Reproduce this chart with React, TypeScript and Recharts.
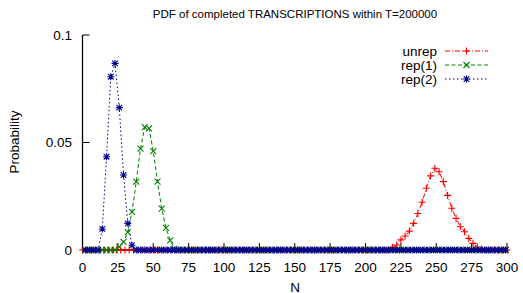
import React from "react";
import { LineChart, Line, XAxis, YAxis, Customized } from "recharts";

// Sample positions (N) for each series
const unrepGrid = [0,3,6,9,12,15,18,21,24,27,30,33,36,39,42,45,48,51,54,57,60,63,66,69,72,75,78,81,84,87,90,93,96,99,102,105,108,111,114,117,120,123,126,129,132,135,138,141,144,147,150,153,156,159,162,165,168,171,174,177,180,183,186,189,192,195,198,201,204,207,210,213,216,219,222,225,228,231,234,237,240,243,246,249,252,255,258,261,264,267,270,273,276,279,282,285,288,291,294,297,300];
const repGrid = [2,5,8,11,14,17,20,23,26,29,32,35,38,41,44,47,50,53,56,59,62,65,68,71,74,77,80,83,86,89,92,95,98,101,104,107,110,113,116,119,122,125,128,131,134,137,140,143,146,149,152,155,158,161,164,167,170,173,176,179,182,185,188,191,194,197,200,203,206,209,212,215,218,221,224,227,230,233,236,239,242,245,248,251,254,257,260,263,266,269,272,275,278,281,284,287,290,293,296,299];

// Non-zero parts of each distribution (everything else reads as 0)
const unrepPeakN = [219,222,225,228,231,234,237,240,243,246,249,252,255,258,261,264,267,270,273,276,279,282];
const unrepPeakP = [0.0012,0.0023,0.0047,0.0065,0.0088,0.0124,0.017,0.0222,0.0287,0.0345,0.038,0.0364,0.0318,0.0254,0.0194,0.0147,0.0108,0.0085,0.0054,0.0031,0.0014,0.0004];

const rep1PeakN = [26,29,32,35,38,41,44,47,50,53,56,59,62,65];
const rep1PeakP = [0.0015,0.0038,0.0083,0.0177,0.0318,0.0472,0.0572,0.0566,0.046,0.0318,0.0192,0.0103,0.0045,0.0005];

const rep2PeakN = [14,17,20,23,26,29,32,35];
const rep2PeakP = [0.0098,0.0434,0.0806,0.0868,0.0662,0.0349,0.0124,0.0022];

const xTicks = [0,25,50,75,100,125,150,175,200,225,250,275,300];
const yTicks = [0,0.05,0.1];

const TITLE = "PDF of completed TRANSCRIPTIONS within T=200000";
const X_LABEL = "N";
const Y_LABEL = "Probability";

const FONT = "'Liberation Sans', Arial, Helvetica, sans-serif";

const build = (grid: number[], pn: number[], pp: number[]) =>
  grid.map((n) => {
    const i = pn.indexOf(n);
    return { N: n, p: i >= 0 ? pp[i] : 0 };
  });

const unrepData = build(unrepGrid, unrepPeakN, unrepPeakP);
const rep1Data = build(repGrid, rep1PeakN, rep1PeakP);
const rep2Data = build(repGrid, rep2PeakN, rep2PeakP);

const RED = "#ff0000";
const GREEN = "#008000";
const BLUE = "#00008f";

const plusPath = (cx: number, cy: number, r: number) =>
  `M${cx - r},${cy}H${cx + r}M${cx},${cy - r}V${cy + r}`;
const crossPath = (cx: number, cy: number, r: number) =>
  `M${cx - r},${cy - r}L${cx + r},${cy + r}M${cx - r},${cy + r}L${cx + r},${cy - r}`;
const starPath = (cx: number, cy: number, r: number) =>
  plusPath(cx, cy, r) + crossPath(cx, cy, r * 0.8);

const marker = (kind: string, color: string) => (props: any) => {
  const { cx, cy, index } = props;
  if (cx == null || cy == null) return <g key={`m${kind}${index}`} />;
  const d =
    kind === "plus" ? plusPath(cx, cy, 3.5) : kind === "cross" ? crossPath(cx, cy, 3) : starPath(cx, cy, 3.5);
  return <path key={`m${kind}${index}`} d={d} stroke={color} strokeWidth={1.1} fill="none" />;
};

const series = [
  { name: "unrep", color: RED, dash: "5 2 1 2", kind: "plus" },
  { name: "rep(1)", color: GREEN, dash: "4 2.5", kind: "cross" },
  { name: "rep(2)", color: BLUE, dash: "1.5 2.5", kind: "star" },
];

const Overlay = () => (
  <g fontFamily={FONT}>
    <text x={295} y={18} fontSize={11.5} textAnchor="middle" fill="#000">
      {TITLE}
    </text>
    <text
      x={14}
      y={142}
      fontSize={13.5}
      textAnchor="middle"
      dominantBaseline="central"
      transform="rotate(-90 14 142)"
      fill="#000"
    >
      {Y_LABEL}
    </text>
    <text x={295} y={287} fontSize={13.5} textAnchor="middle" dominantBaseline="central" fill="#000">
      {X_LABEL}
    </text>
    {series.map((s, i) => {
      const y = 51 + 14 * i;
      return (
        <g key={s.name}>
          <text x={437} y={y} fontSize={13.5} textAnchor="end" dominantBaseline="central" fill="#000">
            {s.name}
          </text>
          <line x1={445} x2={488} y1={y} y2={y} stroke={s.color} strokeWidth={1} strokeDasharray={s.dash} />
          {marker(s.kind, s.color)({ cx: 466.5, cy: y, index: 999 })}
        </g>
      );
    })}
  </g>
);

const tickStyle = { fontSize: 13.5, fontFamily: FONT, fill: "#000" };
const axisLineStyle = { stroke: "#000", strokeWidth: 1.3 };

export default function App() {
  return (
    <div style={{ position: "absolute", left: 0, top: 0, background: "#fff" }}>
      <LineChart
        width={523}
        height={293}
        margin={{ top: 35, right: 16, bottom: 13, left: 22.5 }}
      >
        <XAxis
          dataKey="N"
          type="number"
          domain={[0, 300]}
          ticks={xTicks}
          allowDuplicatedCategory={false}
          height={30}
          tickSize={-7}
          tickMargin={19}
          tick={tickStyle}
          stroke="#000"
          axisLine={axisLineStyle}
          interval={0}
        />
        <XAxis
          xAxisId="top"
          orientation="top"
          type="number"
          domain={[0, 300]}
          ticks={xTicks}
          height={0}
          tickSize={-7}
          tick={false}
          stroke="#000"
          axisLine={axisLineStyle}
          interval={0}
        />
        <YAxis
          type="number"
          domain={[0, 0.1]}
          ticks={yTicks}
          width={60}
          tickSize={-7}
          tickMargin={17.5}
          tick={tickStyle}
          stroke="#000"
          axisLine={axisLineStyle}
          interval={0}
        />
        <YAxis
          yAxisId="right"
          orientation="right"
          type="number"
          domain={[0, 0.1]}
          ticks={yTicks}
          width={0}
          tickSize={-7}
          tick={false}
          stroke="#000"
          axisLine={axisLineStyle}
          interval={0}
        />
        <Line
          data={unrepData}
          dataKey="p"
          name="unrep"
          stroke={RED}
          strokeWidth={1}
          strokeDasharray="5 2 1 2"
          type="linear"
          dot={marker("plus", RED)}
          isAnimationActive={false}
        />
        <Line
          data={rep1Data}
          dataKey="p"
          name="rep(1)"
          stroke={GREEN}
          strokeWidth={1}
          strokeDasharray="4 2.5"
          type="linear"
          dot={marker("cross", GREEN)}
          isAnimationActive={false}
        />
        <Line
          data={rep2Data}
          dataKey="p"
          name="rep(2)"
          stroke={BLUE}
          strokeWidth={1}
          strokeDasharray="1.5 2.5"
          type="linear"
          dot={marker("star", BLUE)}
          isAnimationActive={false}
        />
        <Customized component={Overlay} />
      </LineChart>
    </div>
  );
}
